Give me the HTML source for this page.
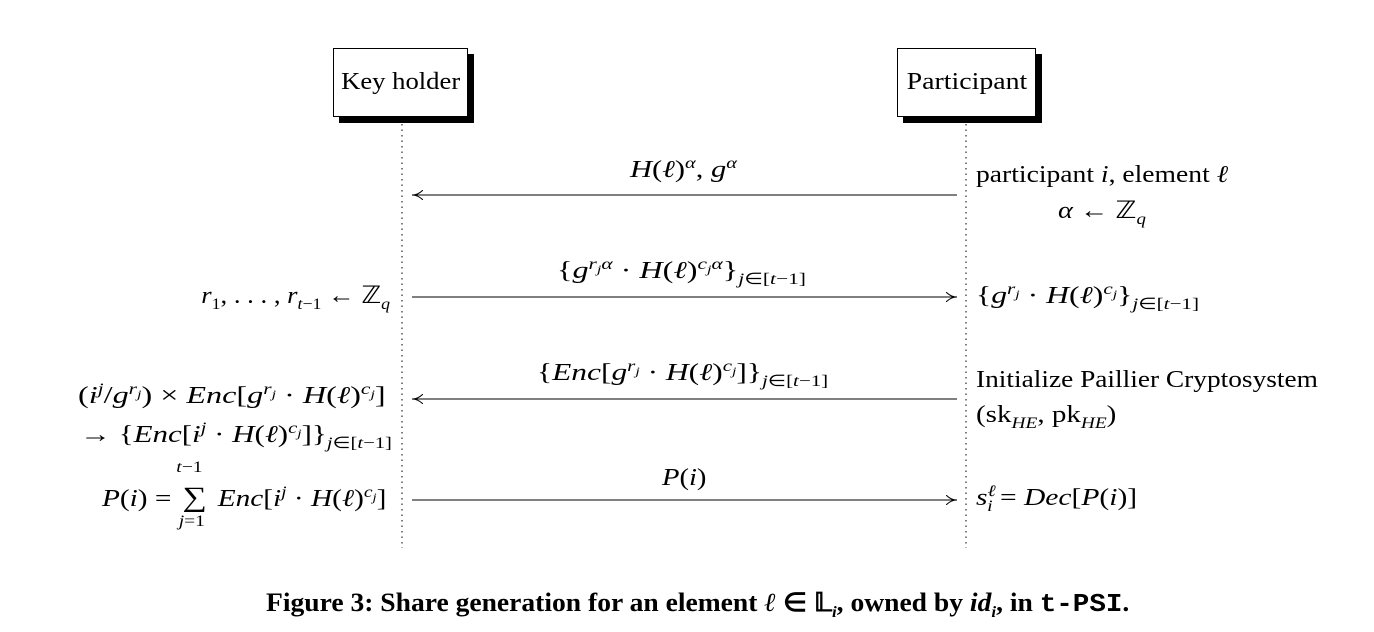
<!DOCTYPE html>
<html><head><meta charset="utf-8"><style>
body{margin:0;width:1374px;height:632px;background:#fff;position:relative;overflow:hidden;font-family:"Liberation Serif",serif;color:#000}
.t{position:absolute;font-size:24px;line-height:26px;white-space:nowrap;transform-origin:0 50%}
i{font-style:italic}
sup,sub{font-size:16px;line-height:0}
.box{position:absolute;background:#fff;border:1px solid #000;box-shadow:6px 6px 0 #000;font-size:24px;display:flex;align-items:center;justify-content:center}
.r{transform-origin:100% 50%}
.c{transform-origin:0 50%}
</style></head><body>
<div class="box" style="left:333px;top:48px;width:133px;height:67px"><span style="display:inline-block;transform:scaleX(1.11)">Key holder</span></div>
<div class="box" style="left:897px;top:48px;width:137px;height:67px"><span style="display:inline-block;transform:scaleX(1.16)">Participant</span></div>
<svg width="1374" height="632" style="position:absolute;left:0;top:0">
<defs><marker id="a" markerWidth="12" markerHeight="10" refX="11" refY="5" orient="auto"><path d="M0,0 Q5,5 11,5 Q5,5 0,10" fill="none" stroke="#000" stroke-width="1"/></marker></defs>
<line x1="402" y1="124" x2="402" y2="548" stroke="#000" stroke-dasharray="1.5,4"/>
<line x1="966" y1="124" x2="966" y2="548" stroke="#000" stroke-dasharray="1.5,4"/>
<line x1="957" y1="195" x2="412" y2="195" stroke="#000" marker-end="url(#a)"/>
<line x1="412" y1="297" x2="957" y2="297" stroke="#000" marker-end="url(#a)"/>
<line x1="957" y1="399" x2="412" y2="399" stroke="#000" marker-end="url(#a)"/>
<line x1="412" y1="500" x2="957" y2="500" stroke="#000" marker-end="url(#a)"/>
</svg>
<div class="t" style="left:630px;top:157px;transform:scaleX(1.27)"><i>H</i>(<i>ℓ</i>)<sup><i>α</i></sup>, <i>g</i><sup><i>α</i></sup></div>
<div class="t" style="left:976px;top:162px;transform:scaleX(1.15)">participant <i>i</i>, element <i>ℓ</i></div>
<div class="t" style="left:1058px;top:198px;transform:scaleX(1.18)"><i>α</i> ← ℤ<sub><i>q</i></sub></div>
<div class="t" style="left:557px;top:258px;transform:scaleX(1.34)">{<i>g</i><sup><i>r<sub style="font-size:12px">j</sub>α</i></sup> · <i>H</i>(<i>ℓ</i>)<sup><i>c<sub style="font-size:12px">j</sub>α</i></sup>}<sub><i>j</i>∈[<i>t</i>−1]</sub></div>
<div class="t r" style="right:984px;top:283px;transform:scaleX(1.11)"><i>r</i><sub>1</sub>, . . . , <i>r</i><sub><i>t</i>−1</sub> ← ℤ<sub><i>q</i></sub></div>
<div class="t" style="left:976px;top:283px;transform:scaleX(1.32)">{<i>g</i><sup><i>r<sub style="font-size:12px">j</sub></i></sup> · <i>H</i>(<i>ℓ</i>)<sup><i>c<sub style="font-size:12px">j</sub></i></sup>}<sub><i>j</i>∈[<i>t</i>−1]</sub></div>
<div class="t" style="left:537px;top:360px;transform:scaleX(1.31)">{<i>Enc</i>[<i>g</i><sup><i>r<sub style="font-size:12px">j</sub></i></sup> · <i>H</i>(<i>ℓ</i>)<sup><i>c<sub style="font-size:12px">j</sub></i></sup>]}<sub><i>j</i>∈[<i>t</i>−1]</sub></div>
<div class="t" style="left:78px;top:383px;transform:scaleX(1.34)">(<i>i</i><sup><i>j</i></sup>/<i>g</i><sup><i>r<sub style="font-size:12px">j</sub></i></sup>) × <i>Enc</i>[<i>g</i><sup><i>r<sub style="font-size:12px">j</sub></i></sup> · <i>H</i>(<i>ℓ</i>)<sup><i>c<sub style="font-size:12px">j</sub></i></sup>]</div>
<div class="t" style="left:80px;top:422px;transform:scaleX(1.29)">→ {<i>Enc</i>[<i>i</i><sup><i>j</i></sup> · <i>H</i>(<i>ℓ</i>)<sup><i>c<sub style="font-size:12px">j</sub></i></sup>]}<sub><i>j</i>∈[<i>t</i>−1]</sub></div>
<div class="t" style="left:976px;top:367px;transform:scaleX(1.14)">Initialize Paillier Cryptosystem</div>
<div class="t" style="left:976px;top:402px;transform:scaleX(1.21)">(sk<sub><i>HE</i></sub>, pk<sub><i>HE</i></sub>)</div>
<div class="t" style="left:662px;top:465px;transform:scaleX(1.19)"><i>P</i>(<i>i</i>)</div>
<div class="t" style="left:102px;top:485px;transform:scaleX(1.22)"><i>P</i>(<i>i</i>) = <span style="display:inline-block;position:relative;width:26px;text-align:center;font-size:28px">∑<span style="position:absolute;left:-2px;top:-30px;font-size:16px"><i>t</i>−1</span><span style="position:absolute;left:0px;top:24px;font-size:16px"><i>j</i>=1</span></span> <i>Enc</i>[<i>i</i><sup><i>j</i></sup> · <i>H</i>(<i>ℓ</i>)<sup><i>c<sub style="font-size:12px">j</sub></i></sup>]</div>
<div class="t" style="left:976px;top:485px;transform:scaleX(1.23)"><i>s</i><sup><i>ℓ</i></sup><sub style="margin-left:-7px"><i>i</i></sub> = <i>Dec</i>[<i>P</i>(<i>i</i>)]</div>
<div class="t" style="left:266px;top:590px;font-size:26px;font-weight:bold;transform:scaleX(1.06)">Figure 3: Share generation for an element <i>ℓ</i> ∈ 𝕃<sub><i>i</i></sub>, owned by <i>id<sub>i</sub></i>, in <span style="font-family:'Liberation Mono',monospace">t-PSI</span>.</div>
</body></html>
